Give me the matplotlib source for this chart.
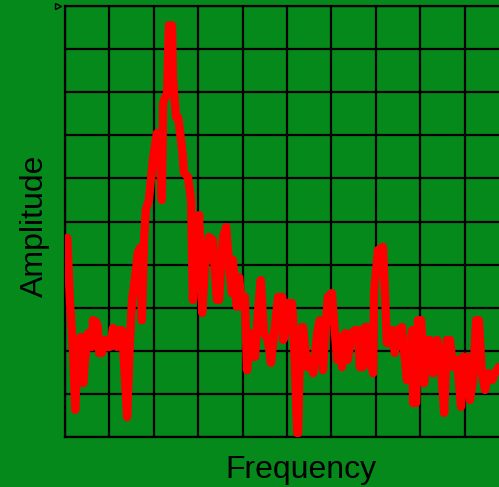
import matplotlib
matplotlib.use("Agg")
import matplotlib.pyplot as plt

# frequency / amplitude, in grid units (10 x 10 grid)
freq = [
    0.00, 0.05, 0.11, 0.18, 0.23, 0.29, 0.36, 0.41, 0.45, 0.52,
    0.61, 0.63, 0.70, 0.74, 0.77, 0.83, 0.90, 0.95, 1.01, 1.08,
    1.17, 1.22, 1.28, 1.31, 1.40, 1.46, 1.51, 1.58, 1.64, 1.69,
    1.73, 1.78, 1.82, 1.89, 1.98, 2.07, 2.12, 2.18, 2.21, 2.30,
    2.34, 2.41, 2.43, 2.50, 2.55, 2.64, 2.68, 2.77, 2.84, 2.88,
    2.95, 3.02, 3.09, 3.15, 3.24, 3.33, 3.42, 3.47, 3.56, 3.63,
    3.69, 3.76, 3.78, 3.87, 3.92, 3.99, 4.05, 4.10, 4.17, 4.21,
    4.28, 4.35, 4.41, 4.48, 4.57, 4.64, 4.71, 4.80, 4.89, 4.91,
    4.95, 5.02, 5.11, 5.14, 5.23, 5.25, 5.29, 5.34, 5.36, 5.45,
    5.52, 5.59, 5.68, 5.74, 5.81, 5.86, 5.92, 6.01, 6.08, 6.13,
    6.19, 6.24, 6.31, 6.37, 6.46, 6.53, 6.60, 6.64, 6.71, 6.76,
    6.82, 6.87, 6.94, 6.96, 7.05, 7.16, 7.21, 7.25, 7.32, 7.36,
    7.43, 7.50, 7.59, 7.61, 7.70, 7.75, 7.82, 7.84, 7.91, 7.95,
    8.02, 8.09, 8.15, 8.22, 8.29, 8.38, 8.45, 8.54, 8.60, 8.67,
    8.74, 8.83, 8.92, 8.96, 9.05, 9.12, 9.19, 9.26, 9.32, 9.39,
    9.46, 9.53, 9.62, 9.68, 9.77, 9.90,
]
amplitude = [
    4.50, 4.62, 3.18, 2.02, 0.63, 2.25, 2.32, 1.25, 1.79, 2.41,
    2.09, 2.71, 2.67, 2.55, 1.95, 1.95, 2.25, 2.09, 2.09, 2.53,
    2.09, 2.48, 2.48, 2.09, 0.46, 2.18, 3.18, 3.71, 4.27, 4.39,
    2.71, 4.57, 5.27, 5.50, 6.43, 7.05, 7.05, 5.50, 7.75, 7.98,
    9.55, 9.55, 8.35, 7.42, 7.42, 6.66, 6.13, 6.03, 5.50, 3.18,
    4.80, 5.15, 2.88, 3.94, 4.64, 4.57, 3.18, 3.18, 4.64, 4.87,
    4.11, 3.34, 4.11, 3.02, 3.71, 3.02, 3.25, 1.55, 2.41, 1.86,
    1.86, 2.95, 3.64, 2.41, 2.25, 1.72, 2.41, 3.25, 3.25, 2.25,
    2.32, 3.11, 3.11, 2.71, 0.09, 0.09, 2.02, 2.55, 2.55, 1.62,
    1.79, 1.48, 2.41, 2.71, 1.55, 2.41, 3.25, 3.34, 2.41, 1.79,
    2.32, 1.62, 2.41, 1.79, 2.41, 2.48, 2.48, 1.62, 1.62, 2.55,
    2.55, 1.79, 1.48, 3.34, 4.34, 4.41, 3.25, 2.18, 2.18, 2.48,
    1.95, 2.48, 2.55, 2.32, 1.32, 1.32, 2.48, 0.79, 0.79, 2.71,
    2.71, 1.25, 2.25, 2.25, 1.48, 2.25, 1.86, 0.56, 2.25, 2.25,
    1.62, 1.79, 0.70, 1.86, 1.86, 0.86, 1.32, 2.71, 2.71, 1.48,
    1.09, 1.48, 1.32, 1.48, 1.62, 1.65,
]

green = "#06891B"

fig = plt.figure(figsize=(4.99, 4.87), dpi=100)
fig.patch.set_facecolor(green)

# the plot area runs past the right edge of the picture
ax = fig.add_axes([65 / 499, 50 / 487, 444 / 499, 431 / 487])
ax.set_facecolor(green)

ax.plot(freq, amplitude, color="#FF0000", linewidth=6.0,
        solid_joinstyle="round", solid_capstyle="round", zorder=3)

ax.set_xlim(0, 10)
ax.set_ylim(0, 10)
ax.set_xticks(range(11))
ax.set_yticks(range(11))
ax.grid(True, color="black", linewidth=1.6, zorder=1)
ax.set_axisbelow(True)
ax.tick_params(length=0, labelbottom=False, labelleft=False)
for side in ["left", "bottom", "top"]:
    ax.spines[side].set_color("black")
    ax.spines[side].set_linewidth(1.6)
ax.spines["right"].set_visible(False)

# small marker at top-left corner of the frame
ax.plot([-0.15], [10], marker=">", markersize=4, markerfacecolor="none",
        markeredgecolor="black", clip_on=False)

fig.text(35 / 499, 1 - 226 / 487, "Amplitude", rotation=90, fontsize=23,
         family=["Liberation Sans", "DejaVu Sans"], ha="center", va="center")
fig.text(301 / 499, 1 - 470 / 487, "Frequency", fontsize=23,
         family=["Liberation Sans", "DejaVu Sans"], ha="center", va="center")

fig.savefig("out.png", dpi=100, facecolor=green)
